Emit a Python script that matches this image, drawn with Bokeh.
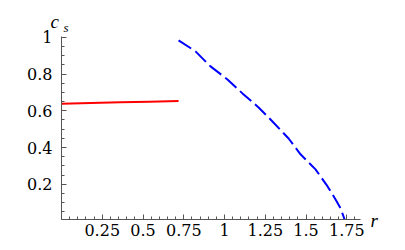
from bokeh.plotting import figure
from bokeh.models import Range1d, FixedTicker, Label, NumeralTickFormatter
from bokeh.embed import file_html
from bokeh.resources import INLINE

# Data
red_r = [0.0, 0.18, 0.36, 0.54, 0.718]
red_cs = [0.638, 0.643, 0.647, 0.650, 0.653]

blue_r = [0.718, 0.822, 0.914, 1.018, 1.110, 1.209, 1.294, 1.393, 1.466,
          1.558, 1.632, 1.681, 1.712, 1.730, 1.736]
blue_cs = [0.984, 0.924, 0.842, 0.771, 0.695, 0.618, 0.542, 0.449, 0.363,
           0.281, 0.188, 0.117, 0.068, 0.024, 0.008]

x_ticks = [0.25, 0.5, 0.75, 1.0, 1.25, 1.5, 1.75]
x_minor = [round(0.05 * i, 2) for i in range(0, 37)]
y_ticks = [0.2, 0.4, 0.6, 0.8, 1.0]
y_minor = [round(0.05 * i, 2) for i in range(1, 21)]

TICK_FONT = "DejaVu Serif"
NAME_FONT = "serif"

p = figure(frame_width=299, frame_height=183, output_backend="svg",
           toolbar_location=None,
           x_range=Range1d(0.0, 1.834), y_range=Range1d(0.0076, 1.005),
           min_border_left=61, min_border_right=44, min_border_top=35,
           min_border_bottom=30)
p.outline_line_color = None
p.grid.visible = False
p.background_fill_color = "white"
p.border_fill_color = "white"

p.line(red_r, red_cs, line_color="#FF0000", line_width=2)
p.line(blue_r, blue_cs, line_color="#0000FF", line_width=2, line_dash="15 5")

for ax, ticks, minor in ((p.xaxis[0], x_ticks, x_minor),
                         (p.yaxis[0], y_ticks, y_minor)):
    ax.ticker = FixedTicker(ticks=ticks, minor_ticks=minor)
    ax.formatter = NumeralTickFormatter(format="0.[00]")
    ax.axis_line_color = "#555555"
    ax.axis_line_width = 1
    ax.major_tick_line_color = "#555555"
    ax.minor_tick_line_color = "#555555"
    ax.major_tick_in = 5
    ax.major_tick_out = 0
    ax.minor_tick_in = 3
    ax.minor_tick_out = 0
    ax.major_label_text_font = TICK_FONT
    ax.major_label_text_font_size = "16px"
    ax.major_label_text_color = "black"

p.xaxis.major_label_standoff = 4
p.yaxis.major_label_standoff = 9

# axis names, placed in the side panels (screen px relative to each panel slot)
p.add_layout(Label(x=-11, y=15, x_units="screen", y_units="screen", text="c",
                   text_font=NAME_FONT, text_font_style="italic", text_color="black",
                   text_font_size="19px", text_align="left", text_baseline="alphabetic"), "above")
p.add_layout(Label(x=2, y=-12, x_units="screen", y_units="screen", text="s",
                   text_font=NAME_FONT, text_font_style="italic", text_color="black",
                   text_font_size="13px", text_align="left", text_baseline="alphabetic"), "above")
p.add_layout(Label(x=10, y=-1, x_units="screen", y_units="screen", text="r",
                   text_font=NAME_FONT, text_font_style="italic", text_color="black",
                   text_font_size="19px", text_align="left", text_baseline="alphabetic"), "right")

open("out.html", "w").write(file_html(p, INLINE))
